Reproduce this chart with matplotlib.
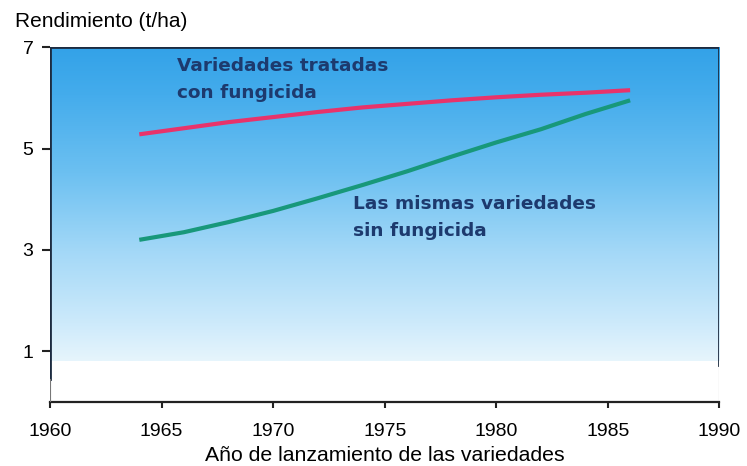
import numpy as np
import matplotlib.pyplot as plt
from matplotlib.colors import LinearSegmentedColormap

plt.rcParams['font.family'] = ['Liberation Sans', 'DejaVu Sans']

# datos
anios = [1964, 1966, 1968, 1970, 1972, 1974, 1976, 1978, 1980, 1982, 1984, 1986]
con_fungicida = [5.28, 5.40, 5.52, 5.62, 5.72, 5.81, 5.88, 5.95, 6.01, 6.06, 6.10, 6.15]
sin_fungicida = [3.20, 3.35, 3.55, 3.77, 4.02, 4.28, 4.55, 4.84, 5.12, 5.38, 5.68, 5.95]

x_ticks = [1960, 1965, 1970, 1975, 1980, 1985, 1990]
y_ticks = [1, 3, 5, 7]

fig = plt.figure(figsize=(7.47, 4.66), dpi=100)
ax = fig.add_axes([0.067, 0.137, 0.896, 0.762])

# fondo degradado azul
cmap = LinearSegmentedColormap.from_list(
    'cielo', [(0.0, '#e6f5fc'), (0.12, '#cdeafb'), (0.35, '#a3d8f7'),
              (0.6, '#6cc0f1'), (0.85, '#44acec'), (1.0, '#33a2e8')])
grad = np.linspace(0, 1, 256).reshape(-1, 1)
ax.imshow(grad, cmap=cmap, origin='lower', aspect='auto',
          extent=[1960, 1990, 0.82, 7], zorder=0)

line_kw = dict(lw=3.0, solid_capstyle='butt', zorder=3)
ax.plot(anios, con_fungicida, color='#e8336b', **line_kw)
ax.plot(anios, sin_fungicida, color='#18987a', **line_kw)

txt_kw = dict(fontsize=13.3, fontweight='bold', color='#1d3a6e', family='DejaVu Sans',
              va='top', ha='left', linespacing=1.6, zorder=4)
ax.text(1965.7, 6.8, 'Variedades tratadas\ncon fungicida', **txt_kw)
ax.text(1973.6, 4.08, 'Las mismas variedades\nsin fungicida', **txt_kw)

ax.set_xlim(1960, 1990)
ax.set_ylim(0, 7)
ax.set_xticks(x_ticks)
ax.set_yticks(y_ticks)
ax.tick_params(labelsize=14, width=1.5, color='#222222')
ax.tick_params(axis='x', length=4, pad=11)
ax.tick_params(axis='y', length=6, pad=6)

for s in ['left', 'right', 'top']:
    ax.spines[s].set_visible(False)
ax.spines['bottom'].set_linewidth(1.6)
ax.spines['bottom'].set_color('#222222')

# bordes del recuadro azul
ax.axhline(7, color='#1c2b40', lw=2, zorder=5)
ax.axvline(1960, ymin=0.065, ymax=1, color='#1c2b40', lw=2, zorder=5)
ax.axvline(1960, ymin=0, ymax=0.065, color='#777777', lw=0.8, zorder=5)
ax.axvline(1990, ymin=0.105, ymax=1, color='#1c2b40', lw=2, zorder=5)
ax.axvline(1990, ymin=0, ymax=0.105, color='#999999', lw=0.8, zorder=5)

fig.text(0.02, 0.953, 'Rendimiento (t/ha)', fontsize=15, va='center', ha='left')
ax.set_xlabel('Año de lanzamiento de las variedades', fontsize=15.3, labelpad=4)

fig.savefig('out.png', dpi=100)
